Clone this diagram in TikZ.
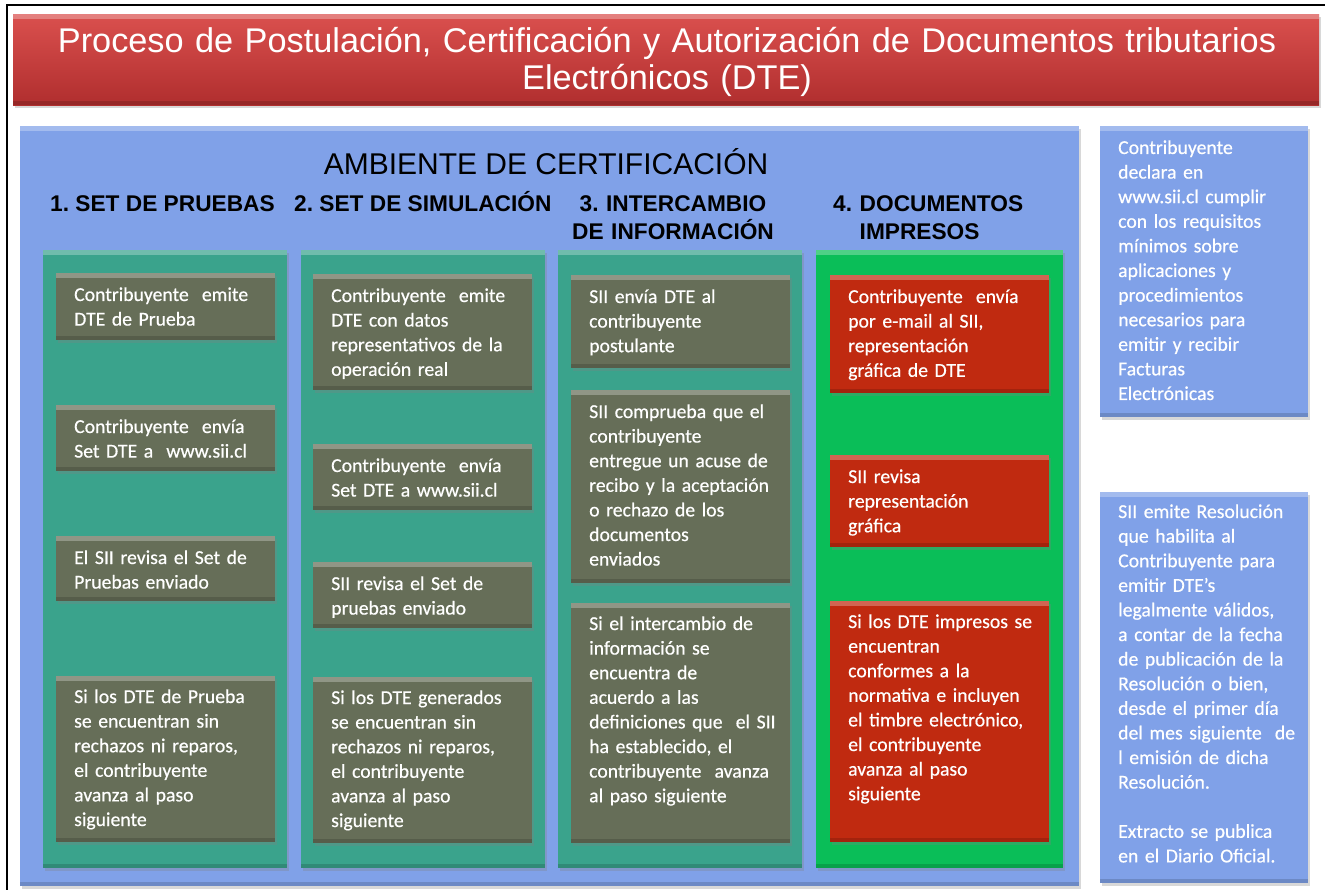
\documentclass[tikz,border=0pt]{standalone}
\usepackage{fontspec}
\setmainfont{Carlito}
\newfontfamily\boxfont[FakeBold=0.5]{Carlito}
\newfontfamily\headfont{Liberation Sans}
\usepackage{tikz}
\usetikzlibrary{shadows,positioning}
\frenchspacing

\definecolor{titletop}{RGB}{218,80,78}
\definecolor{titlebot}{RGB}{176,46,46}
\definecolor{panelblue}{RGB}{128,161,232}
\definecolor{colteal}{RGB}{58,163,140}
\definecolor{colgreen}{RGB}{10,190,88}
\definecolor{stepolive}{RGB}{102,110,88}
\definecolor{stepred}{RGB}{192,42,16}

\begin{document}
\begin{tikzpicture}[x=1pt, y=-1pt]
        \tikzstyle{bevel} = [path picture={
            \fill[white, opacity=0.28] (path picture bounding box.north west) rectangle ([yshift=-5pt]path picture bounding box.north east);
            \fill[black, opacity=0.15] (path picture bounding box.south west) rectangle ([yshift=4pt]path picture bounding box.south east);}]
        \tikzstyle{panel} = [rectangle, anchor=north west, inner sep=0pt, bevel, drop shadow={shadow xshift=1.5pt, shadow yshift=-2.5pt, opacity=0.3}]
        \tikzstyle{colbox} = [panel, fill=colteal, minimum width=244, minimum height=618]
        \tikzstyle{stepbox} = [panel, fill=stepolive, minimum width=219]
        \tikzstyle{redbox} = [panel, fill=stepred, minimum width=219]
        \tikzstyle{sidebox} = [panel, fill=panelblue, minimum width=208]
        \tikzstyle{steptext} = [anchor=base west, text width=210, align=left, inner sep=0pt, text=white, font=\boxfont\fontsize{19.7}{24.6}\selectfont]
        \tikzstyle{head} = [inner sep=0pt, text=black, font=\headfont\bfseries\fontsize{22.7}{28}\selectfont]

        \useasboundingbox (0,0) rectangle (1325,890);
        \fill[white] (0,0) rectangle (1325,890);
        \draw[line width=1.5pt] (7,900) |- (1340,5);

        % title bar
        \node[panel, top color=titletop, bottom color=titlebot, minimum width=1306, minimum height=91] (title) at (13,14) {};
        \node[anchor=base, text width=1300, align=center, inner sep=0pt, text=white, font=\headfont\fontsize{34.3}{37}\selectfont] (titletext) at (667,53)
            {Proceso de Postulación, Certificación y Autorización de Documentos tributarios\\Electrónicos (DTE)};

        % certification environment
        \node[panel, fill=panelblue, minimum width=1059, minimum height=760] (ambiente) at (20,126) {};
        \node[anchor=base, inner sep=0pt, font=\headfont\fontsize{30}{34}\selectfont] (ambtext) at (546,175) {AMBIENTE DE CERTIFICACIÓN};
        \node[head, anchor=base west] (h1) at (50,212) {1. SET DE PRUEBAS};
        \node[head, anchor=base west] (h2) at (294,212) {2. SET DE SIMULACIÓN};
        \node[head, anchor=base, text width=260, align=center] (h3) at (673,212) {3. INTERCAMBIO\\DE INFORMACIÓN};
        \node[head, anchor=base west, text width=240, align=left] (h4) at (833,212) {4. DOCUMENTOS\\\phantom{4. }IMPRESOS};

        \node[colbox] (c1) at (43,250) {};
        \node[colbox] (c2) at (301,250) {};
        \node[colbox] (c3) at (558,250) {};
        \node[colbox, fill=colgreen, minimum width=247] (c4) at (816,250) {};

        % 1. set de pruebas
        \node[stepbox, minimum height=67] (s11) at (56,273) {};
        \node[stepbox, minimum height=66] (s12) at (56,405) {};
        \node[stepbox, minimum height=65] (s13) at (56,536) {};
        \node[stepbox, minimum height=166] (s14) at (56,676) {};
        \node[steptext] (t11) at ([xshift=18, yshift=-28]s11.north west) {Contribuyente~ emite\\DTE de Prueba};
        \node[steptext] (t12) at ([xshift=18, yshift=-28]s12.north west) {Contribuyente~ envía\\Set DTE a~ www.sii.cl};
        \node[steptext] (t13) at ([xshift=18, yshift=-28]s13.north west) {El SII revisa el Set de\\Pruebas enviado};
        \node[steptext] (t14) at ([xshift=18, yshift=-27]s14.north west) {Si los DTE de Prueba\\se encuentran sin\\rechazos ni reparos,\\el contribuyente\\avanza al paso\\siguiente};

        % 2. set de simulacion
        \node[stepbox, minimum height=116] (s21) at (313,274) {};
        \node[stepbox, minimum height=66] (s22) at (313,444) {};
        \node[stepbox, minimum height=66] (s23) at (313,562) {};
        \node[stepbox, minimum height=166] (s24) at (313,677) {};
        \node[steptext] (t21) at ([xshift=18, yshift=-28]s21.north west) {Contribuyente~ emite\\DTE con datos\\representativos de la\\operación real};
        \node[steptext] (t22) at ([xshift=18, yshift=-28]s22.north west) {Contribuyente~ envía\\Set DTE a www.sii.cl};
        \node[steptext] (t23) at ([xshift=18, yshift=-28]s23.north west) {SII revisa el Set de\\pruebas enviado};
        \node[steptext] (t24) at ([xshift=18, yshift=-27]s24.north west) {Si los DTE generados\\se encuentran sin\\rechazos ni reparos,\\el contribuyente\\avanza al paso\\siguiente};

        % 3. intercambio de informacion
        \node[stepbox, minimum height=93] (s31) at (571,275) {};
        \node[stepbox, minimum height=193] (s32) at (571,390) {};
        \node[stepbox, minimum height=240] (s33) at (571,603) {};
        \node[steptext] (t31) at ([xshift=18, yshift=-28]s31.north west) {SII envía DTE al\\contribuyente\\postulante};
        \node[steptext] (t32) at ([xshift=18, yshift=-28]s32.north west) {SII comprueba que el\\contribuyente\\entregue un acuse de\\recibo y la aceptación\\o rechazo de los\\documentos\\enviados};
        \node[steptext] (t33) at ([xshift=18, yshift=-27]s33.north west) {Si el intercambio de\\información se\\encuentra de\\acuerdo a las\\definiciones que~ el SII\\ha establecido, el\\contribuyente~ avanza\\al paso siguiente};

        % 4. documentos impresos
        \node[redbox, minimum height=118] (s41) at (830,275) {};
        \node[redbox, minimum height=92] (s42) at (830,455) {};
        \node[redbox, minimum height=241] (s43) at (830,601) {};
        \node[steptext] (t41) at ([xshift=18, yshift=-28]s41.north west) {Contribuyente~ envía\\por e-mail al SII,\\representación\\gráfica de DTE};
        \node[steptext] (t42) at ([xshift=18, yshift=-28]s42.north west) {SII revisa\\representación\\gráfica};
        \node[steptext] (t43) at ([xshift=18, yshift=-27]s43.north west) {Si los DTE impresos se\\encuentran\\conformes a la\\normativa e incluyen\\el timbre electrónico,\\el contribuyente\\avanza al paso\\siguiente};

        % side notes
        \node[sidebox, minimum height=291] (r1) at (1100,126) {};
        \node[sidebox, minimum height=391] (r2) at (1100,492) {};
        \node[steptext, text width=195] (rt1) at ([xshift=18, yshift=-28]r1.north west) {Contribuyente\\declara en\\www.sii.cl cumplir\\con los requisitos\\mínimos sobre\\aplicaciones y\\procedimientos\\necesarios para\\emitir y recibir\\Facturas\\Electrónicas};
        \node[steptext, text width=195] (rt2) at ([xshift=18, yshift=-26]r2.north west) {SII emite Resolución\\que habilita al\\Contribuyente para\\emitir DTE’s\\legalmente válidos,\\a contar de la fecha\\de publicación de la\\Resolución o bien,\\desde el primer día\\del mes siguiente~ de\\l emisión de dicha\\Resolución.\\[24.6pt]Extracto se publica\\en el Diario Oficial.};
    \end{tikzpicture}
\end{document}
